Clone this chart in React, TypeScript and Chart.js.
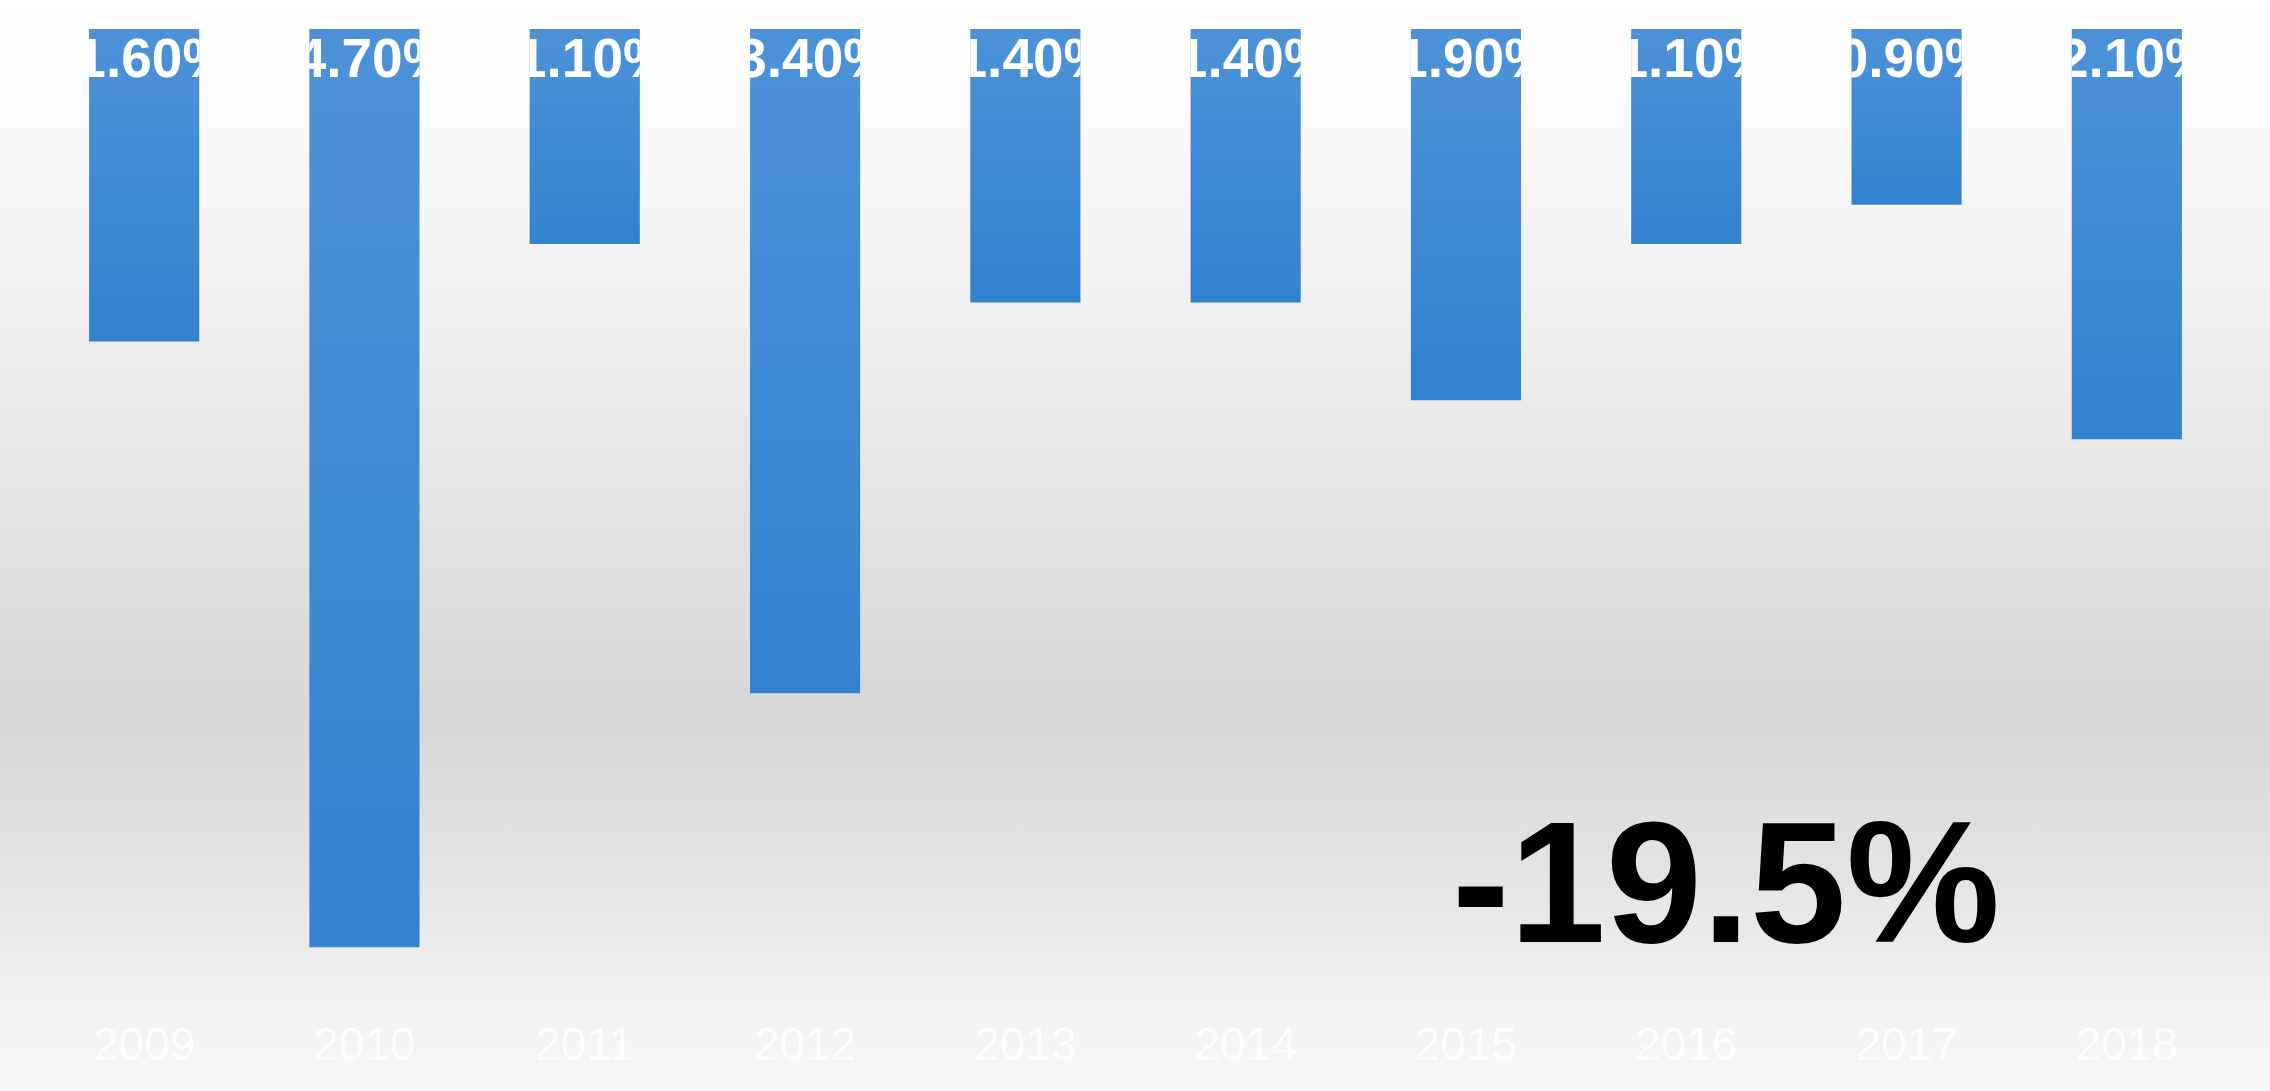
import React, { useEffect, useRef } from 'react';
import { Chart, registerables } from 'chart.js';

Chart.register(...registerables);

const years: string[] = ['2009', '2010', '2011', '2012', '2013', '2014', '2015', '2016', '2017', '2018'];
const changes: number[] = [-1.6, -4.7, -1.1, -3.4, -1.4, -1.4, -1.9, -1.1, -0.9, -2.1];
const totalLabel = '-19.5%';
const yMin = -5;
const yMax = 0;

const fmt = (v: number) => v.toFixed(2) + '%';
const FONT = '"Liberation Sans", Arial, Helvetica, sans-serif';

const labelPlugin = {
  id: 'barLabels',
  afterDatasetsDraw(chart: any) {
    const ctx = chart.ctx as CanvasRenderingContext2D;
    const meta = chart.getDatasetMeta(0);
    ctx.save();
    ctx.font = `bold 55px ${FONT}`;
    ctx.fillStyle = '#ffffff';
    ctx.textAlign = 'center';
    ctx.textBaseline = 'middle';
    meta.data.forEach((bar: any, i: number) => {
      const half = bar.width / 2;
      ctx.save();
      ctx.beginPath();
      ctx.rect(bar.x - half, bar.base, bar.width, bar.y - bar.base);
      ctx.clip();
      ctx.fillText(fmt(changes[i]), bar.x, bar.base + 33);
      ctx.restore();
    });
    const area = chart.chartArea;
    ctx.font = `bold 173px ${FONT}`;
    ctx.fillStyle = '#000000';
    ctx.textAlign = 'left';
    ctx.textBaseline = 'alphabetic';
    ctx.fillText(totalLabel, area.left + 1418, area.top + 913);
    ctx.restore();
  },
};

export default function App() {
  const ref = useRef<HTMLCanvasElement | null>(null);

  useEffect(() => {
    document.body.style.margin = '0';
    const canvas = ref.current;
    if (!canvas) return;
    const chart = new Chart(canvas, {
      type: 'bar',
      data: {
        labels: years,
        datasets: [
          {
            data: changes,
            backgroundColor: (c: any) => {
              const ch = c.chart;
              if (!ch.chartArea || !ch.scales || !ch.scales.y) return '#3f8ad4';
              const y = ch.scales.y;
              const top = y.getPixelForValue(0);
              const bot = y.getPixelForValue(c.raw as number);
              if (!isFinite(top) || !isFinite(bot) || top === bot) return '#3f8ad4';
              const g = ch.ctx.createLinearGradient(0, top, 0, bot);
              g.addColorStop(0, '#4d92d8');
              g.addColorStop(1, '#3282d0');
              return g;
            },
            borderWidth: 0,
            barPercentage: 0.5,
            categoryPercentage: 1,
          },
        ],
      },
      options: {
        animation: false,
        responsive: true,
        maintainAspectRatio: false,
        layout: { padding: { left: 34, right: 33, top: 29, bottom: 2 } },
        plugins: {
          legend: { display: false },
          tooltip: { enabled: false },
          title: { display: false },
        },
        scales: {
          x: {
            grid: { display: false, drawTicks: false },
            border: { display: false },
            ticks: {
              color: 'rgba(255,255,255,0.85)',
              font: { family: FONT, size: 46 },
              padding: 14,
              maxRotation: 0,
              autoSkip: false,
            },
          },
          y: {
            display: false,
            min: yMin,
            max: yMax,
          },
        },
      },
      plugins: [labelPlugin],
    });
    return () => chart.destroy();
  }, []);

  return (
    <div
      style={{
        position: 'absolute',
        left: 0,
        top: 0,
        width: 2270,
        height: 1091,
        background:
          'linear-gradient(to bottom, #ffffff 0px, #fcfcfc 90px, #f0f0f0 300px, #e3e3e3 520px, #d7d7d7 710px, #e4e4e4 880px, #fafafa 1091px)',
      }}
    >
      <canvas ref={ref} style={{ width: '100%', height: '100%' }} />
    </div>
  );
}
